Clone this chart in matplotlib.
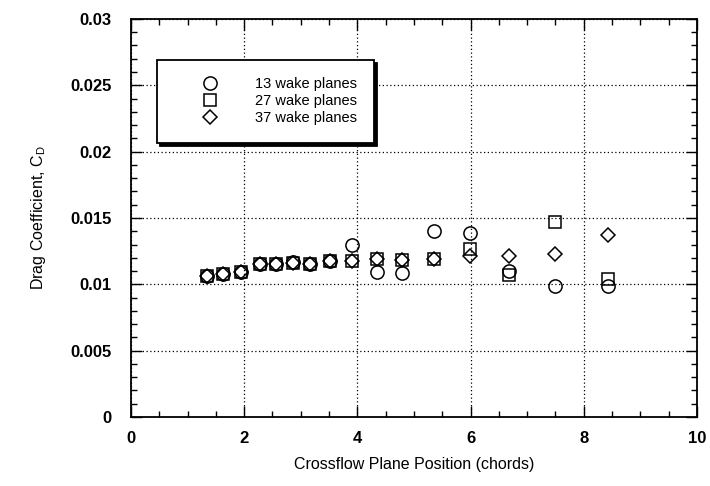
import numpy as np
import matplotlib
matplotlib.use('Agg')
import matplotlib.pyplot as plt
from matplotlib.ticker import MultipleLocator

plt.rcParams['font.family'] = ['Liberation Sans', 'DejaVu Sans']

# crossflow plane positions (chords)
x_pos = [1.34, 1.63, 1.94, 2.28, 2.57, 2.87, 3.17, 3.52, 3.91, 4.34, 4.79, 5.36, 5.99, 6.68, 7.50, 8.43]

# drag coefficient for each wake-plane count
cd_13 = [0.01063, 0.01076, 0.01093, 0.01152, 0.01150, 0.01165, 0.01150, 0.01172,
         0.01300, 0.01090, 0.01083, 0.01400, 0.01390, 0.01100, 0.00990, 0.00985]
cd_27 = [0.01063, 0.01076, 0.01093, 0.01152, 0.01150, 0.01160, 0.01150, 0.01172,
         0.01175, 0.01190, 0.01185, 0.01190, 0.01265, 0.01070, 0.01467, 0.01038]
cd_37 = [0.01063, 0.01076, 0.01093, 0.01152, 0.01150, 0.01158, 0.01150, 0.01172,
         0.01175, 0.01190, 0.01180, 0.01190, 0.01215, 0.01210, 0.01232, 0.01370]

x_ticks = [0, 2, 4, 6, 8, 10]
y_ticks = [0, 0.005, 0.01, 0.015, 0.02, 0.025, 0.03]
y_tick_labels = ['0', '0.005', '0.01', '0.015', '0.02', '0.025', '0.03']

fig = plt.figure(figsize=(7.1, 4.86), dpi=100)
ax = fig.add_axes([0.1845, 0.142, 0.797, 0.819])

mk = dict(linestyle='none', fillstyle='none', color='black', markeredgewidth=1.1)
ax.plot(x_pos, cd_13, marker='o', markersize=9.5, label='13 wake planes', **mk)
ax.plot(x_pos, cd_27, marker='s', markersize=9, label='27 wake planes', **mk)
ax.plot(x_pos, cd_37, marker='D', markersize=7.5, label='37 wake planes', **mk)

ax.set_xlim(0, 10)
ax.set_ylim(0, 0.03)
ax.set_xticks(x_ticks)
ax.set_xticklabels([str(t) for t in x_ticks])
ax.xaxis.set_minor_locator(MultipleLocator(0.5))
ax.set_yticks(y_ticks)
ax.set_yticklabels(y_tick_labels)
ax.yaxis.set_minor_locator(MultipleLocator(0.001))

ax.tick_params(which='both', direction='in', top=True, right=True, width=1)
ax.tick_params(which='major', length=8, labelsize=12)
ax.tick_params(axis='y', which='major', pad=14)
ax.tick_params(axis='x', which='major', pad=10)
ax.tick_params(which='minor', length=4)
for lbl in ax.get_xticklabels() + ax.get_yticklabels():
    lbl.set_fontweight('bold')
for s in ax.spines.values():
    s.set_linewidth(1.3)

ax.grid(True, which='major', color='black', linestyle=(0, (1, 2)), linewidth=0.9)

ax.set_xlabel('Crossflow Plane Position (chords)', fontsize=11.5, labelpad=8)
ax.set_ylabel('Drag Coefficient, C$_\\mathregular{D}$', fontsize=11.5, labelpad=16)

leg = ax.legend(loc='upper left', bbox_to_anchor=(0.046, 0.897), fancybox=False,
                shadow={'color': 'black', 'alpha': 1}, framealpha=1, edgecolor='black',
                fontsize=10.5, handletextpad=0.7, borderpad=1.2, borderaxespad=0,
                labelspacing=0.2, handlelength=4.8)
leg.get_frame().set_linewidth(1.3)

fig.savefig('out.png', dpi=100)
